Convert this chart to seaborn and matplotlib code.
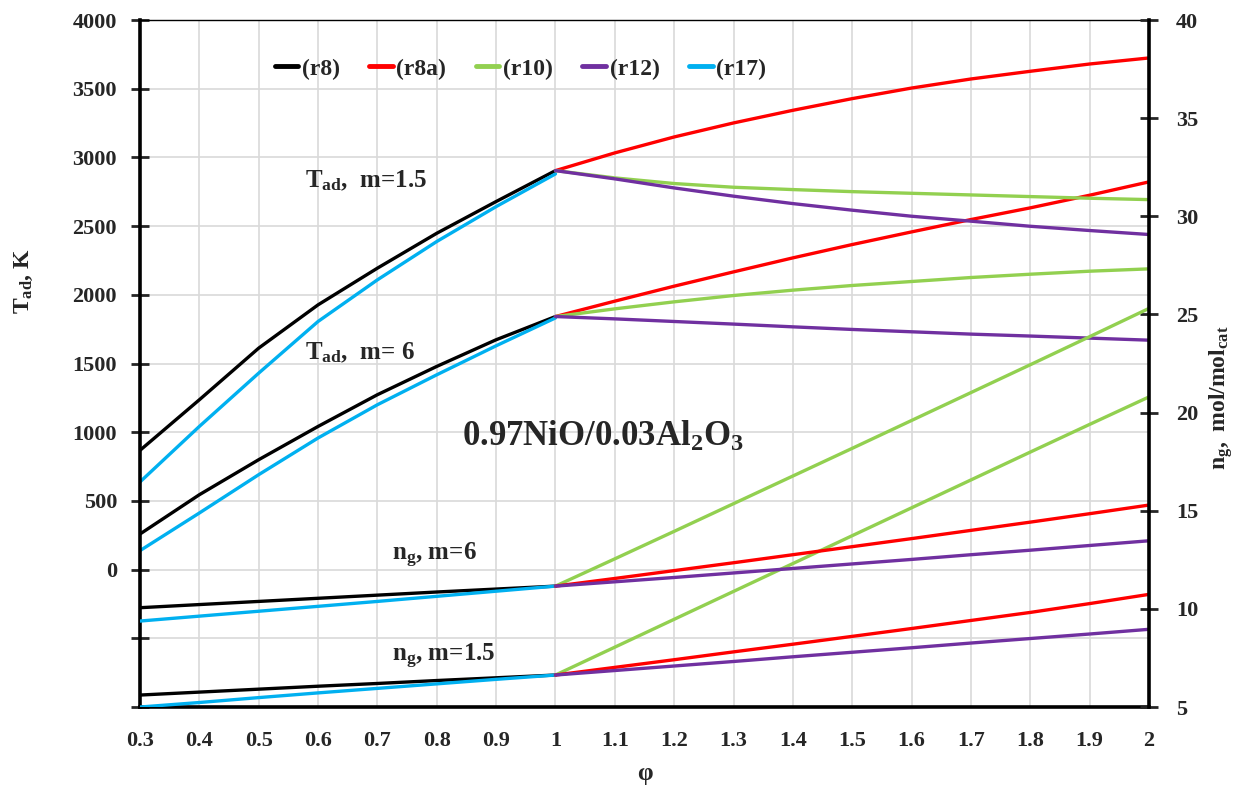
import numpy as np
import pandas as pd
import seaborn as sns
import matplotlib
matplotlib.use("Agg")
import matplotlib.pyplot as plt
from matplotlib.lines import Line2D
from matplotlib.ticker import FuncFormatter, MultipleLocator

phi = ["0.3", "0.4", "0.5", "0.6", "0.7", "0.8", "0.9", "1",
       "1.1", "1.2", "1.3", "1.4", "1.5", "1.6", "1.7", "1.8", "1.9", "2"]
phi_lean = phi[:8]     # 0.3 .. 1
phi_rich = phi[7:]     # 1 .. 2

# adiabatic temperature, K (left axis)
tad15_r8 = [868, 1236, 1612, 1927, 2194, 2448, 2679, 2904]
tad15_r17 = [638, 1042, 1430, 1806, 2109, 2388, 2642, 2880]
tad15_r8a = [2904, 3033, 3149, 3251, 3343, 3428, 3505, 3571, 3627, 3680, 3724]
tad15_r10 = [2904, 2851, 2810, 2783, 2766, 2751, 2739, 2727, 2715, 2703, 2693]
tad15_r12 = [2904, 2844, 2778, 2718, 2664, 2616, 2572, 2536, 2499, 2468, 2439]

tad6_r8 = [259, 545, 800, 1042, 1273, 1479, 1673, 1842]
tad6_r17 = [138, 412, 691, 958, 1200, 1418, 1629, 1832]
tad6_r8a = [1842, 1954, 2063, 2167, 2269, 2366, 2458, 2548, 2633, 2725, 2822]
tad6_r10 = [1842, 1898, 1949, 1995, 2034, 2068, 2097, 2126, 2150, 2172, 2189]
tad6_r12 = [1842, 1825, 1806, 1787, 1767, 1748, 1731, 1714, 1700, 1685, 1670]

# gas moles, mol/mol_cat (right axis)
ng6_r8 = [10.06, 10.22, 10.38, 10.54, 10.70, 10.86, 11.01, 11.16]
ng6_r17 = [9.38, 9.63, 9.88, 10.13, 10.38, 10.64, 10.90, 11.16]
ng6_r8a = [11.16, 11.55, 11.95, 12.35, 12.76, 13.17, 13.58, 14.00, 14.42, 14.85, 15.29]
ng6_r10 = [11.16, 12.55, 13.95, 15.36, 16.77, 18.18, 19.60, 21.02, 22.44, 23.87, 25.31]
ng6_r12 = [11.16, 11.38, 11.60, 11.83, 12.06, 12.29, 12.52, 12.76, 12.99, 13.23, 13.47]

ng15_r8 = [5.61, 5.76, 5.91, 6.06, 6.20, 6.35, 6.49, 6.63]
ng15_r17 = [5.00, 5.23, 5.48, 5.72, 5.95, 6.18, 6.41, 6.63]
ng15_r8a = [6.63, 7.02, 7.41, 7.81, 8.20, 8.60, 9.00, 9.41, 9.82, 10.27, 10.74]
ng15_r10 = [6.63, 8.05, 9.47, 10.89, 12.31, 13.73, 15.15, 16.57, 17.99, 19.40, 20.80]
ng15_r12 = [6.63, 6.86, 7.09, 7.32, 7.56, 7.79, 8.02, 8.26, 8.49, 8.72, 8.96]

colors = {"(r8)": "black", "(r8a)": "#FF0000", "(r10)": "#92D050",
          "(r12)": "#7030A0", "(r17)": "#00B0F0"}

sns.set_theme(style="white")
plt.rcParams["font.family"] = ["Liberation Serif", "DejaVu Serif"]
plt.rcParams["font.weight"] = "bold"
plt.rcParams["mathtext.fontset"] = "custom"
plt.rcParams["mathtext.rm"] = "Liberation Serif:bold"
plt.rcParams["mathtext.bf"] = "Liberation Serif:bold"
plt.rcParams["mathtext.it"] = "Liberation Serif:bold"

fig = plt.figure(figsize=(12.43, 7.98), dpi=100)
ax = fig.add_axes([0.1126, 0.1140, 0.8118, 0.8609])
ax2 = ax.twinx()

pos = {p: i for i, p in enumerate(phi)}
xl = [pos[p] for p in phi_lean]
xr = [pos[p] for p in phi_rich]
lw = 2.4

left_series = [
    (xl, tad15_r8, "(r8)"), (xl, tad6_r8, "(r8)"),
    (xl, tad15_r17, "(r17)"), (xl, tad6_r17, "(r17)"),
    (xr, tad15_r8a, "(r8a)"), (xr, tad6_r8a, "(r8a)"),
    (xr, tad15_r10, "(r10)"), (xr, tad6_r10, "(r10)"),
    (xr, tad15_r12, "(r12)"), (xr, tad6_r12, "(r12)"),
]
right_series = [
    (xl, ng15_r8, "(r8)"), (xl, ng6_r8, "(r8)"),
    (xl, ng15_r17, "(r17)"), (xl, ng6_r17, "(r17)"),
    (xr, ng15_r10, "(r10)"), (xr, ng6_r10, "(r10)"),
    (xr, ng15_r8a, "(r8a)"), (xr, ng6_r8a, "(r8a)"),
    (xr, ng15_r12, "(r12)"), (xr, ng6_r12, "(r12)"),
]
for xs, ys, key in left_series:
    sns.lineplot(x=xs, y=ys, ax=ax, color=colors[key], linewidth=lw, legend=False)
for xs, ys, key in right_series:
    sns.lineplot(x=xs, y=ys, ax=ax2, color=colors[key], linewidth=lw, legend=False)

# axes
ax.set_xlim(0, len(phi) - 1)
ax.set_xticks(range(len(phi)))
ax.set_xticklabels(phi)
ax.set_ylim(-1000, 4000)
ax.yaxis.set_major_locator(MultipleLocator(500))
ax.yaxis.set_major_formatter(FuncFormatter(lambda v, p: "" if v < 0 else f"{v:.0f}"))
ax2.set_ylim(5, 40)
ax2.yaxis.set_major_locator(MultipleLocator(5))

ax.grid(True, color="#D9D9D9", linewidth=1.2)
ax.set_axisbelow(True)

for s in ["left", "bottom"]:
    ax.spines[s].set_linewidth(2.6)
    ax.spines[s].set_color("black")
ax.spines["top"].set_linewidth(1.0)
ax.spines["top"].set_color("black")
ax.spines["right"].set_visible(False)
for s in ["left", "bottom", "top"]:
    ax2.spines[s].set_visible(False)
ax2.spines["right"].set_linewidth(2.6)
ax2.spines["right"].set_color("black")

ax.tick_params(axis="x", length=0, pad=17, labelsize=16)
ax.tick_params(axis="y", direction="inout", length=13, width=2, pad=10,
               labelsize=16, left=True)
ax2.tick_params(axis="y", direction="inout", length=13, width=2, pad=13,
                labelsize=16, right=True)
for lab in ax.get_xticklabels() + ax.get_yticklabels() + ax2.get_yticklabels():
    lab.set_fontweight("bold")

ax.set_xlabel("φ", fontsize=18, fontweight="bold", labelpad=8)
ax.set_ylabel(r"$\mathbf{T_{ad}}$, K", fontsize=17, fontweight="bold")
ax.yaxis.set_label_coords(-0.104, 0.62)
ax2.set_ylabel(r"$\mathbf{n_g,\ mol/mol_{cat}}$", fontsize=17)
ax2.yaxis.set_label_coords(1.058, 0.45)

# annotations (left-axis data coordinates)
ax.text(2.78, 2830, r"$\mathbf{T_{ad}}$,  m=1.5", fontsize=18, fontweight="bold",
        ha="left", va="center")
ax.text(2.78, 1578, r"$\mathbf{T_{ad}}$,  m= 6", fontsize=18, fontweight="bold",
        ha="left", va="center")
ax.text(5.43, 967, r"$\mathbf{0.97NiO/0.03Al_2O_3}$", fontsize=25,
        ha="left", va="center")
ax.text(4.25, 102, r"$\mathbf{n_g}$, m=6", fontsize=18, fontweight="bold",
        ha="left", va="center")
ax.text(4.25, -633, r"$\mathbf{n_g}$, m=1.5", fontsize=18, fontweight="bold",
        ha="left", va="center")

handles = [Line2D([0], [0], color=c, linewidth=3.5) for c in colors.values()]
leg = ax2.legend(handles, list(colors.keys()), loc="center",
                 bbox_to_anchor=(0.377, 0.929), ncol=5, frameon=False,
                 handlelength=1.0, handletextpad=0.15, columnspacing=1.25,
                 prop={"size": 17, "weight": "bold"})

fig.savefig("out.png", dpi=100)
